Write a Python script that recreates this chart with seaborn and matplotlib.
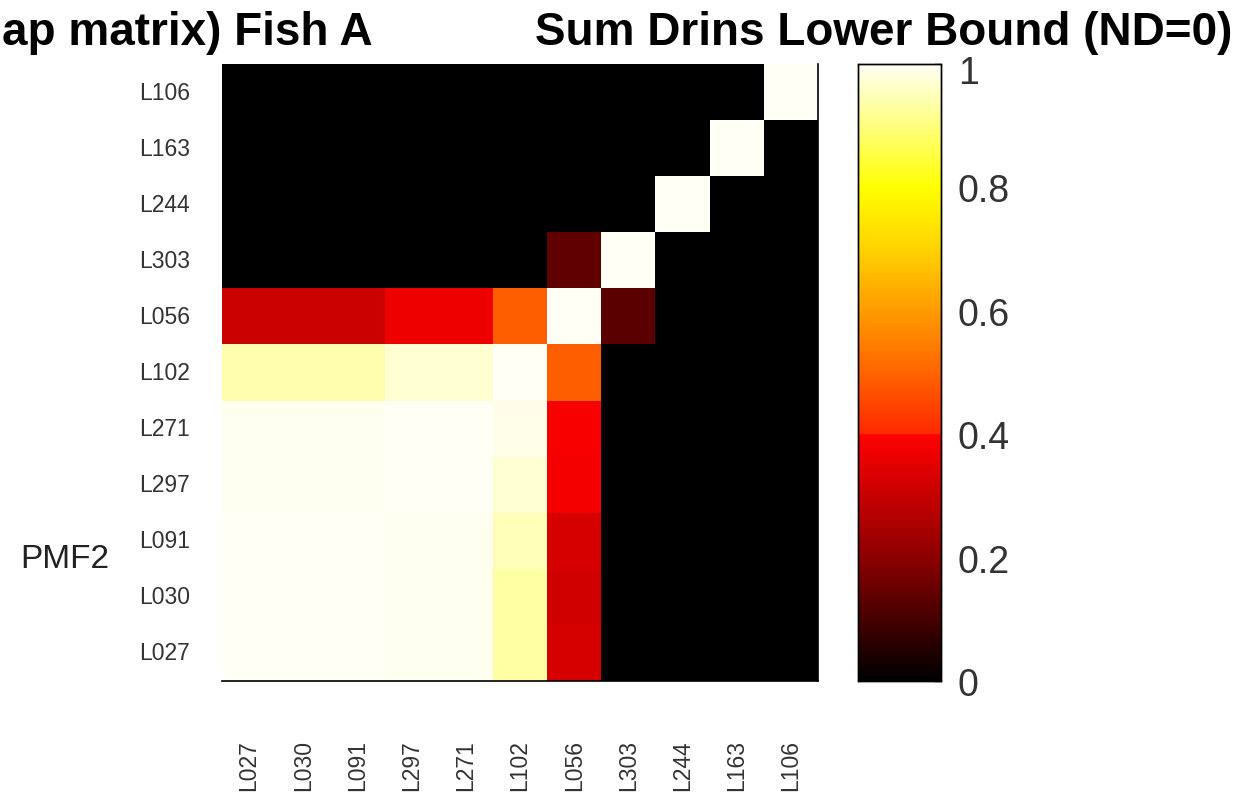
import matplotlib
matplotlib.use("Agg")
import matplotlib.pyplot as plt
import matplotlib.transforms as mtransforms
import numpy as np
import pandas as pd
import seaborn as sns
from matplotlib.colors import LinearSegmentedColormap


# Etykiety wierszy (od gory) i kolumn (od lewej)
row_labels = ["L106", "L163", "L244", "L303", "L056", "L102",
              "L271", "L297", "L091", "L030", "L027"]
col_labels = ["L027", "L030", "L091", "L297", "L271", "L102",
              "L056", "L303", "L244", "L163", "L106"]

# Wartosci, po jednym wierszu
row_L106 = [0, 0, 0, 0, 0, 0, 0, 0, 0, 0, 1]
row_L163 = [0, 0, 0, 0, 0, 0, 0, 0, 0, 1, 0]
row_L244 = [0, 0, 0, 0, 0, 0, 0, 0, 1, 0, 0]
row_L303 = [0, 0, 0, 0, 0, 0, 0.14, 1, 0, 0, 0]
row_L056 = [0.31, 0.31, 0.31, 0.37, 0.37, 0.49, 1, 0.13, 0, 0, 0]
row_L102 = [0.94, 0.94, 0.94, 0.97, 0.97, 1, 0.49, 0, 0, 0, 0]
row_L271 = [0.995, 0.995, 0.995, 1, 1, 0.99, 0.39, 0, 0, 0, 0]
row_L297 = [0.995, 0.995, 0.995, 1, 1, 0.97, 0.38, 0, 0, 0, 0]
row_L091 = [1, 1, 1, 0.995, 0.995, 0.95, 0.33, 0, 0, 0, 0]
row_L030 = [1, 1, 1, 0.995, 0.995, 0.93, 0.32, 0, 0, 0, 0]
row_L027 = [1, 1, 1, 0.995, 0.995, 0.93, 0.33, 0, 0, 0, 0]

cbar_ticks = [0, 0.2, 0.4, 0.6, 0.8, 1]
cbar_tick_labels = ["0", "0.2", "0.4", "0.6", "0.8", "1"]

df = pd.DataFrame(
    [row_L106, row_L163, row_L244, row_L303, row_L056, row_L102,
     row_L271, row_L297, row_L091, row_L030, row_L027],
    index=row_labels,
    columns=col_labels,
)

# Mapa kolorow w stylu "hot" z przeskokiem przy 0.4
hot_cmap = LinearSegmentedColormap.from_list(
    "hot_like",
    [
        (0.0, (0, 0, 0)),
        (0.1, (70 / 255, 0, 0)),
        (0.2, (140 / 255, 0, 0)),
        (0.399, (1, 0, 0)),
        (0.4, (1, 40 / 255, 0)),
        (0.5, (1, 100 / 255, 0)),
        (0.6, (1, 155 / 255, 0)),
        (0.7, (1, 210 / 255, 0)),
        (0.8, (1, 1, 0)),
        (0.9, (1, 1, 125 / 255)),
        (1.0, (1, 1, 245 / 255)),
    ],
    N=512,
)

sns.set_theme(style="white")
plt.rcParams["font.family"] = ["Liberation Sans", "DejaVu Sans"]

W, H = 1241, 804
fig = plt.figure(figsize=(W / 100, H / 100), dpi=100)
ax = fig.add_axes([222 / W, 1 - 682 / H, 596 / W, 617 / H])
cax = fig.add_axes([858 / W, 1 - 682 / H, 83 / W, 617 / H])

sns.heatmap(
    df,
    ax=ax,
    cbar_ax=cax,
    cmap=hot_cmap,
    vmin=0,
    vmax=1,
    square=False,
    cbar_kws={"ticks": cbar_ticks},
)

# Osie heatmapy
ax.set_xlabel("")
ax.set_ylabel("")
ax.tick_params(axis="both", length=0)
ax.tick_params(axis="x", pad=42)
ax.tick_params(axis="y", pad=23)
ax.set_xticklabels(col_labels, rotation=90, fontsize=16.5, color="#333333")
ax.set_yticklabels(row_labels, rotation=0, fontsize=16.5, color="#333333")
for side in ["top", "left"]:
    ax.spines[side].set_visible(False)
for side in ["bottom", "right"]:
    ax.spines[side].set_visible(True)
    ax.spines[side].set_color("black")
    ax.spines[side].set_linewidth(1.2)
ax.set_zorder(1)

# Pasek kolorow
cax.set_yticklabels(cbar_tick_labels)
cax.tick_params(axis="y", direction="in", length=5, width=1, pad=12,
                labelsize=27, labelcolor="#333333", right=True)
for spine in cax.spines.values():
    spine.set_visible(True)
    spine.set_color("black")
    spine.set_linewidth(1)

# Etykieta "1" lezy na oryginale troche nizej niz kreska
top_label = cax.get_yticklabels()[-1]
top_label.set_transform(top_label.get_transform()
                        + mtransforms.ScaledTranslation(0, -5 / 100, fig.dpi_scale_trans))

# Tytul (przyciety z lewej jak na oryginale) i opis osi
fig.text(2 / W, 1 - 45 / H, "ap matrix) Fish A", fontsize=33, fontweight="bold",
         ha="left", va="baseline", color="black")
fig.text(1232 / W, 1 - 45 / H, "Sum Drins Lower Bound (ND=0)", fontsize=33,
         fontweight="bold", ha="right", va="baseline", color="black")
fig.text(20 / W, 1 - 560 / H, "PMF2", fontsize=24, ha="left", va="center",
         color="#222222")

plt.savefig("out.png", dpi=100)
plt.close()
